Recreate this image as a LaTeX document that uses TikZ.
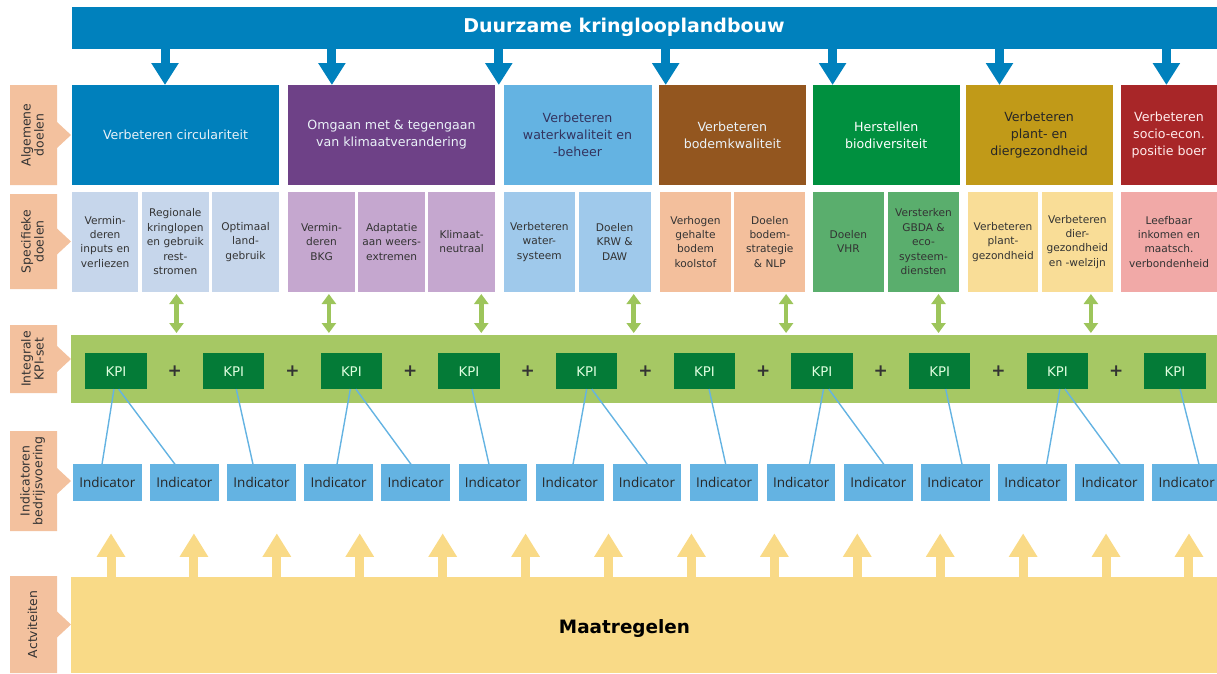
\documentclass[tikz,border=0pt]{standalone}
\usepackage{fontspec}
\setmainfont{DejaVu Sans}
\newfontfamily\indfont{Open Sans}
\usetikzlibrary{arrows.meta,calc}
\definecolor{topblue}{HTML}{0081BD}
\definecolor{circG}{HTML}{0080BC}
\definecolor{circS}{HTML}{C6D6EB}
\definecolor{klimG}{HTML}{6E4187}
\definecolor{klimS}{HTML}{C5A7CF}
\definecolor{watG}{HTML}{64B3E2}
\definecolor{watS}{HTML}{9FC9EB}
\definecolor{bodG}{HTML}{93561F}
\definecolor{bodS}{HTML}{F3BF9C}
\definecolor{bioG}{HTML}{00903F}
\definecolor{bioS}{HTML}{5AAE6D}
\definecolor{plaG}{HTML}{C19A18}
\definecolor{plaS}{HTML}{F9DD97}
\definecolor{socG}{HTML}{A82628}
\definecolor{socS}{HTML}{F1A9A7}
\definecolor{labelc}{HTML}{F3C19E}
\definecolor{bandgreen}{HTML}{A6C864}
\definecolor{kpigreen}{HTML}{047B37}
\definecolor{dblarrow}{HTML}{9DC55B}
\definecolor{indblue}{HTML}{64B3E2}
\definecolor{yel}{HTML}{F9DA87}
\definecolor{darktext}{HTML}{333333}
\definecolor{lighttext}{HTML}{EAF2F8}
\newcommand\mkbox[7]{%
  \pgfmathsetmacro\mbw{#4-(#2)}%
  \pgfmathsetmacro\mbh{#5-(#3)}%
  \pgfmathsetmacro\mbx{(#2+#4)/2}%
  \pgfmathsetmacro\mby{(#3+#5)/2}%
  \node[box,#6,minimum width=\mbw pt,minimum height=\mbh pt] (#1) at (\mbx,\mby) {#7};%
}
\newcommand\mklabel[4]{%
  \pgfmathsetmacro\mlm{(#2+#3)/2}%
  \fill[labelc] (10,#2) -- (57,#2) -- (57,{\mlm-13}) -- (71,\mlm) -- (57,{\mlm+13}) -- (57,#3) -- (10,#3) -- cycle;%
  \node[lbl] (#1) at (32.5,\mlm) {#4};%
}
\begin{document}
\begin{tikzpicture}[x=1pt,y=-1pt,
  box/.style={inner sep=0pt,outer sep=0pt,align=center,anchor=center},
  gtext/.style={font=\fontsize{12.6}{17}\selectfont},
  stext/.style={font=\fontsize{10.6}{14.4}\selectfont,text=darktext},
  lbl/.style={rotate=90,align=center,text=darktext,font=\fontsize{12.4}{12.8}\selectfont,inner sep=0pt},
  kpi/.style={box,fill=kpigreen,text=white!88!green,minimum width=61.5pt,minimum height=35.7pt,font=\fontsize{13.3}{15}\selectfont},
  ind/.style={box,fill=indblue,text=black!85,minimum width=68.5pt,minimum height=36.4pt,font=\indfont\fontsize{13.5}{15}\selectfont},
  plus/.style={inner sep=0pt,text=darktext,font=\fontsize{17}{17}\selectfont\bfseries},
  conn/.style={draw=indblue,line width=1.4pt},
  downarr/.style={draw=topblue,line width=9pt,-{Triangle[width=26pt,length=22pt]}},
  uparr/.style={draw=yel,line width=9pt,-{Triangle[width=27pt,length=23.5pt]}},
  dblarr/.style={draw=dblarrow,line width=4.5pt,{Triangle[width=14pt,length=10pt]}-{Triangle[width=14pt,length=10pt]}}
]
\useasboundingbox (0,0) rectangle (1217,673);

% top bar
\mkbox{top}{72}{7}{1217}{49}{fill=topblue}{}
\node[box,text=white,font=\fontsize{19}{22}\selectfont\bfseries] (title) at (624,27.5) {Duurzame kringlooplandbouw};

% left labels
\mklabel{lab1}{85}{185}{Algemene\\doelen}
\mklabel{lab2}{194}{289}{Specifieke\\doelen}
\mklabel{lab3}{325}{393}{Integrale\\KPI-set}
\mklabel{lab4}{431}{531}{Indicatoren\\bedrijsvoering}
\mklabel{lab5}{576}{673}{Actviteiten}

% general goals
\mkbox{g1}{72}{85}{279}{185}{fill=circG,gtext,text=lighttext}{Verbeteren circulariteit}
\mkbox{g2}{288}{85}{495}{185}{fill=klimG,gtext,text=lighttext}{Omgaan met \& tegengaan\\van klimaatverandering}
\mkbox{g3}{503.5}{85}{651.5}{185}{fill=watG,gtext,text=black!72!blue!60!gray}{Verbeteren\\waterkwaliteit en\\-beheer}
\mkbox{g4}{658.7}{85}{806}{185}{fill=bodG,gtext,text=lighttext}{Verbeteren\\bodemkwaliteit}
\mkbox{g5}{812.5}{85}{960}{185}{fill=bioG,gtext,text=white}{Herstellen\\biodiversiteit}
\mkbox{g6}{965.5}{85}{1112.7}{185}{fill=plaG,gtext,text=black!85}{Verbeteren\\plant- en\\diergezondheid}
\mkbox{g7}{1121}{85}{1217}{185}{fill=socG,gtext,text=red!8!white}{Verbeteren\\socio-econ.\\positie boer}

% down arrows
\foreach \k in {0,...,6}{
  \pgfmathsetmacro\ax{165+166.9*\k}
  \draw[downarr] (\ax,45) -- (\ax,85);
}

% specific goals
\mkbox{s1a}{72}{192}{138.3}{291.5}{fill=circS,stext}{Vermin-\\deren\\inputs en\\verliezen}
\mkbox{s1b}{142}{192}{208.7}{291.5}{fill=circS,stext}{Regionale\\kringlopen\\en gebruik\\rest-\\stromen}
\mkbox{s1c}{212}{192}{279}{291.5}{fill=circS,stext}{Optimaal\\land-\\gebruik}
\mkbox{s2a}{288}{192}{355}{291.5}{fill=klimS,stext}{Vermin-\\deren\\BKG}
\mkbox{s2b}{358.3}{192}{425}{291.5}{fill=klimS,stext}{Adaptatie\\aan weers-\\extremen}
\mkbox{s2c}{428.3}{192}{495}{291.5}{fill=klimS,stext}{Klimaat-\\neutraal}
\mkbox{s3a}{503.7}{192}{575}{291.5}{fill=watS,stext}{Verbeteren\\water-\\systeem}
\mkbox{s3b}{578.7}{192}{650.5}{291.5}{fill=watS,stext}{Doelen\\KRW \&\\DAW}
\mkbox{s4a}{660}{192}{731}{291.5}{fill=bodS,stext}{Verhogen\\gehalte\\bodem\\koolstof}
\mkbox{s4b}{734.3}{192}{805.3}{291.5}{fill=bodS,stext}{Doelen\\bodem-\\strategie\\\& NLP}
\mkbox{s5a}{812.7}{192}{884}{291.5}{fill=bioS,stext}{Doelen\\VHR}
\mkbox{s5b}{888}{192}{959}{291.5}{fill=bioS,stext}{Versterken\\GBDA \&\\eco-\\systeem-\\diensten}
\mkbox{s6a}{967.7}{192}{1038.3}{291.5}{fill=plaS,stext}{Verbeteren\\plant-\\gezondheid}
\mkbox{s6b}{1042}{192}{1112.7}{291.5}{fill=plaS,stext}{Verbeteren\\dier-\\gezondheid\\en -welzijn}
\mkbox{s7}{1121}{192}{1217}{291.5}{fill=socS,stext}{Leefbaar\\inkomen en\\maatsch.\\verbondenheid}

% double arrows
\foreach \k in {0,...,6}{
  \pgfmathsetmacro\ax{176.5+152.4*\k}
  \draw[dblarr] (\ax,294) -- (\ax,333);
}

% KPI band
\mkbox{band}{71}{335}{1217}{402.7}{fill=bandgreen}{}
\foreach \i in {1,...,10}{
  \pgfmathsetmacro\cx{116+117.67*(\i-1)}
  \node[kpi] (kpi\i) at (\cx,371.2) {KPI};
}
\foreach \i [evaluate=\i as \n using int(\i+1)] in {1,...,9}{
  \node[plus] (plus\i) at ($(kpi\i.east)!0.5!(kpi\n.west)$) {+};
}

% indicators
\foreach \j in {1,...,15}{
  \pgfmathsetmacro\cx{107.3+77.1*(\j-1)}
  \node[ind] (ind\j) at (\cx,482.5) {Indicator};
}

% connectors
\foreach \k/\dx/\j/\ex in {1/-2/1/-5.3, 1/2.6/2/-9.4, 2/2.6/3/-8.5, 3/-1/4/-1.6, 3/4.5/5/-4.7,
  4/3/6/-3.8, 5/0/7/3.1, 5/5/8/0.4, 6/4.7/9/1.6, 7/1.5/10/8.3, 7/6.7/11/5.5,
  8/6/12/6.6, 9/2.5/13/14.1, 9/7.6/14/10.4, 10/5/15/12.3}{
  \draw[conn] ($(kpi\k.south)+(\dx,0)$) -- ($(ind\j.north)+(\ex,0)$);
}

% bottom band
\mkbox{maat}{71}{577}{1217}{673}{fill=yel}{}
\node[box,text=black,font=\fontsize{18.4}{22}\selectfont\bfseries] (maattext) at (624.5,628) {Maatregelen};

% up arrows
\foreach \k in {0,...,13}{
  \pgfmathsetmacro\ax{111+82.92*\k}
  \draw[uparr] (\ax,580) -- (\ax,533.3);
}
\end{tikzpicture}
\end{document}
